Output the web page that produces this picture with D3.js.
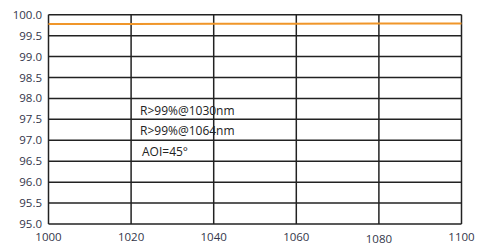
<!DOCTYPE html>
<html><head><meta charset="utf-8">
<script src="https://cdn.jsdelivr.net/npm/d3@7"></script>
<style>body{margin:0;background:#fff;} svg{display:block;}</style>
</head><body>
<svg id="c" width="498" height="246"></svg>
<script>
const wavelengths = [1000, 1020, 1040, 1060, 1080, 1100];
const reflectance = [99.78, 99.78, 99.785, 99.785, 99.79, 99.79];
const yTicks = [95.0, 95.5, 96.0, 96.5, 97.0, 97.5, 98.0, 98.5, 99.0, 99.5, 100.0];
const xTicks = [1000, 1020, 1040, 1060, 1080, 1100];
const notes = ["R>99%@1030nm", "R>99%@1064nm", "AOI=45°"];

const svg = d3.select("#c");
const m = {l: 48.5, r: 461.5, t: 14.7, b: 224};
const x = d3.scaleLinear().domain([1000, 1100]).range([m.l, m.r]);
const y = d3.scaleLinear().domain([95, 100]).range([m.b, m.t]);
const font = "'Open Sans', sans-serif";
const tc = "#33364a";

const g = svg.append("g");
g.selectAll("line.h").data(yTicks).join("line")
  .attr("x1", m.l).attr("x2", m.r)
  .attr("y1", d => y(d)).attr("y2", d => y(d))
  .attr("stroke", "#222").attr("stroke-width", 1.5);
g.selectAll("line.v").data(xTicks).join("line")
  .attr("y1", m.t).attr("y2", m.b)
  .attr("x1", d => x(d)).attr("x2", d => x(d))
  .attr("stroke", "#222").attr("stroke-width", 1.5);

g.selectAll("text.y").data(yTicks).join("text")
  .attr("x", 42).attr("y", d => y(d)).attr("dy", "0.35em")
  .attr("text-anchor", "end").attr("font-family", font).attr("font-size", 11.5)
  .attr("fill", tc).text(d => d.toFixed(1));
g.selectAll("text.x").data(xTicks).join("text")
  .attr("x", d => x(d)).attr("y", (d, i) => i === 4 ? 243 : 241)
  .attr("text-anchor", "middle").attr("font-family", font).attr("font-size", 11.5)
  .attr("fill", tc).text(d => d);

const line = d3.line().x((d, i) => x(wavelengths[i])).y(d => y(d));
g.append("path").datum(reflectance).attr("d", line)
  .attr("fill", "none").attr("stroke", "#f0962a").attr("stroke-width", 2);

const noteX = [140, 140, 142];
const noteY = [111, 131, 152];
g.selectAll("text.n").data(notes).join("text")
  .attr("x", (d, i) => noteX[i]).attr("y", (d, i) => noteY[i]).attr("dy", "0.35em")
  .attr("font-family", font).attr("font-size", 12).attr("fill", "#222")
  .text(d => d);
</script>
</body></html>
